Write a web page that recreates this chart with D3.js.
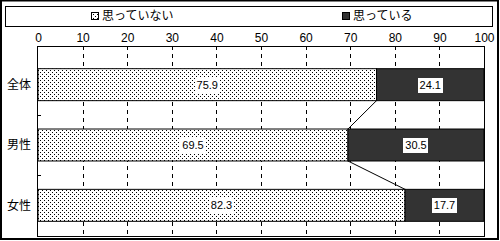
<!DOCTYPE html>
<html>
<head>
<meta charset="utf-8">
<script src="https://cdn.jsdelivr.net/npm/d3@7"></script>
<style>
  body { margin: 0; background: #fff; }
  text { font-family: "Liberation Sans", Arial, sans-serif; }
  .jp { font-family: "Noto Sans CJK JP", sans-serif; }
</style>
</head>
<body>
<div id="chart"></div>
<script>
// data
var categories = ["全体", "男性", "女性"];
var notThink = [75.9, 69.5, 82.3];   // 思っていない
var think = [24.1, 30.5, 17.7];      // 思っている
var seriesNames = ["思っていない", "思っている"];
var xTicks = [0, 10, 20, 30, 40, 50, 60, 70, 80, 90, 100];

var svgWidth = 500;
var svgHeight = 241;

var svg = d3.select("#chart")
    .append("svg")
    .attr("width", svgWidth)
    .attr("height", svgHeight);

// dotted pattern for the light series
var defs = svg.append("defs");
var pat = defs.append("pattern")
    .attr("id", "dots")
    .attr("width", 4)
    .attr("height", 4)
    .attr("patternUnits", "userSpaceOnUse");
pat.append("rect").attr("width", 4).attr("height", 4).attr("fill", "#fff");
pat.append("rect").attr("x", 0).attr("y", 0).attr("width", 1).attr("height", 1).attr("fill", "#000");
pat.append("rect").attr("x", 2).attr("y", 2).attr("width", 1).attr("height", 1).attr("fill", "#000");

// outer frame
svg.append("rect")
    .attr("x", 1).attr("y", 0.5)
    .attr("width", 497).attr("height", 238.5)
    .attr("fill", "none")
    .attr("stroke", "#000")
    .attr("stroke-width", 2);

// legend
svg.append("rect")
    .attr("x", 5.5).attr("y", 6.5)
    .attr("width", 487).attr("height", 20)
    .attr("fill", "#fff")
    .attr("stroke", "#000");

var legendX = [91, 342];
seriesNames.forEach(function (name, i) {
    var g = svg.append("g").attr("transform", `translate(${legendX[i]}, 12)`);
    g.append("rect")
        .attr("x", 0.5).attr("y", 0.5)
        .attr("width", 7).attr("height", 7)
        .attr("fill", i === 0 ? "url(#dots)" : "#333")
        .attr("stroke", "#000");
    g.append("text")
        .classed("jp", true)
        .attr("x", 11)
        .attr("y", 4)
        .attr("dy", "0.35em")
        .attr("font-size", 12)
        .text(name);
});

// plot area
var plotLeft = 38, plotRight = 484, plotTop = 46, plotBottom = 236;

var x = d3.scaleLinear().domain([0, 100]).range([plotLeft, plotRight]);
var y = d3.scaleBand()
    .domain(categories)
    .range([54.5, 235.5])
    .paddingInner(0.47)
    .paddingOuter(0.235);

// dashed gridlines
svg.append("g")
    .selectAll("line")
    .data(xTicks.slice(1, -1))
    .enter()
    .append("line")
    .attr("x1", d => Math.round(x(d)) + 0.5)
    .attr("x2", d => Math.round(x(d)) + 0.5)
    .attr("y1", plotTop)
    .attr("y2", plotBottom)
    .attr("stroke", "#000")
    .attr("stroke-dasharray", "4,4");

// top tick labels
var xAxis = svg.append("g")
    .attr("transform", `translate(0, ${plotTop})`)
    .call(d3.axisTop(x).tickValues(xTicks).tickSize(0).tickPadding(4));
xAxis.select(".domain").remove();
xAxis.selectAll("text")
    .attr("font-size", 12)
    .attr("font-family", "Liberation Sans, Arial, sans-serif")
    .attr("fill", "#000");

// bars
var rows = categories.map((c, i) => ({ cat: c, a: notThink[i], b: think[i] }));

var barGroup = svg.append("g");
barGroup.selectAll(".barA")
    .data(rows)
    .enter()
    .append("rect")
    .attr("x", d => x(0))
    .attr("y", d => y(d.cat))
    .attr("width", d => x(d.a) - x(0))
    .attr("height", y.bandwidth())
    .attr("fill", "url(#dots)")
    .attr("stroke", "#000");

barGroup.selectAll(".barB")
    .data(rows)
    .enter()
    .append("rect")
    .attr("x", d => x(d.a))
    .attr("y", d => y(d.cat))
    .attr("width", d => x(d.a + d.b) - x(d.a))
    .attr("height", y.bandwidth())
    .attr("fill", "#333")
    .attr("stroke", "#000");

// connector lines between series boundary
for (var i = 0; i < rows.length - 1; i++) {
    svg.append("line")
        .attr("x1", x(rows[i].a))
        .attr("y1", y(rows[i].cat) + y.bandwidth())
        .attr("x2", x(rows[i + 1].a))
        .attr("y2", y(rows[i + 1].cat))
        .attr("stroke", "#000");
}

// value labels with white boxes
function addLabel(cx, cy, txt) {
    var t = svg.append("text")
        .attr("x", cx)
        .attr("y", cy)
        .attr("dy", "0.35em")
        .attr("text-anchor", "middle")
        .attr("font-size", 11)
        .text(txt);
    var bb = t.node().getBBox();
    svg.insert("rect", () => t.node())
        .attr("x", Math.round(bb.x) - 2)
        .attr("y", Math.round(cy) - 7)
        .attr("width", Math.round(bb.width) + 4)
        .attr("height", 15)
        .attr("fill", "#fff");
}
rows.forEach(function (d) {
    var cy = y(d.cat) + y.bandwidth() / 2;
    addLabel((x(0) + x(d.a)) / 2, cy, d.a.toFixed(1));
    addLabel((x(d.a) + x(d.a + d.b)) / 2, cy, d.b.toFixed(1));
});

// plot frame
svg.append("rect")
    .attr("x", plotLeft - 0.5).attr("y", plotTop + 0.5)
    .attr("width", plotRight - plotLeft + 1).attr("height", plotBottom - plotTop)
    .attr("fill", "none")
    .attr("stroke", "#000");

// category ticks (inside) between bands
svg.append("g")
    .selectAll("line")
    .data(categories.slice(1))
    .enter()
    .append("line")
    .attr("x1", plotLeft)
    .attr("x2", plotLeft + 3)
    .attr("y1", d => Math.round(y(d) - y.step() * y.paddingInner() / 2) + 0.5)
    .attr("y2", d => Math.round(y(d) - y.step() * y.paddingInner() / 2) + 0.5)
    .attr("stroke", "#000");

// category labels
svg.append("g")
    .selectAll("text")
    .data(categories)
    .enter()
    .append("text")
    .classed("jp", true)
    .attr("x", 31)
    .attr("y", d => y(d) + y.bandwidth() / 2)
    .attr("dy", "0.35em")
    .attr("text-anchor", "end")
    .attr("font-size", 12)
    .text(d => d);
</script>
</body>
</html>
